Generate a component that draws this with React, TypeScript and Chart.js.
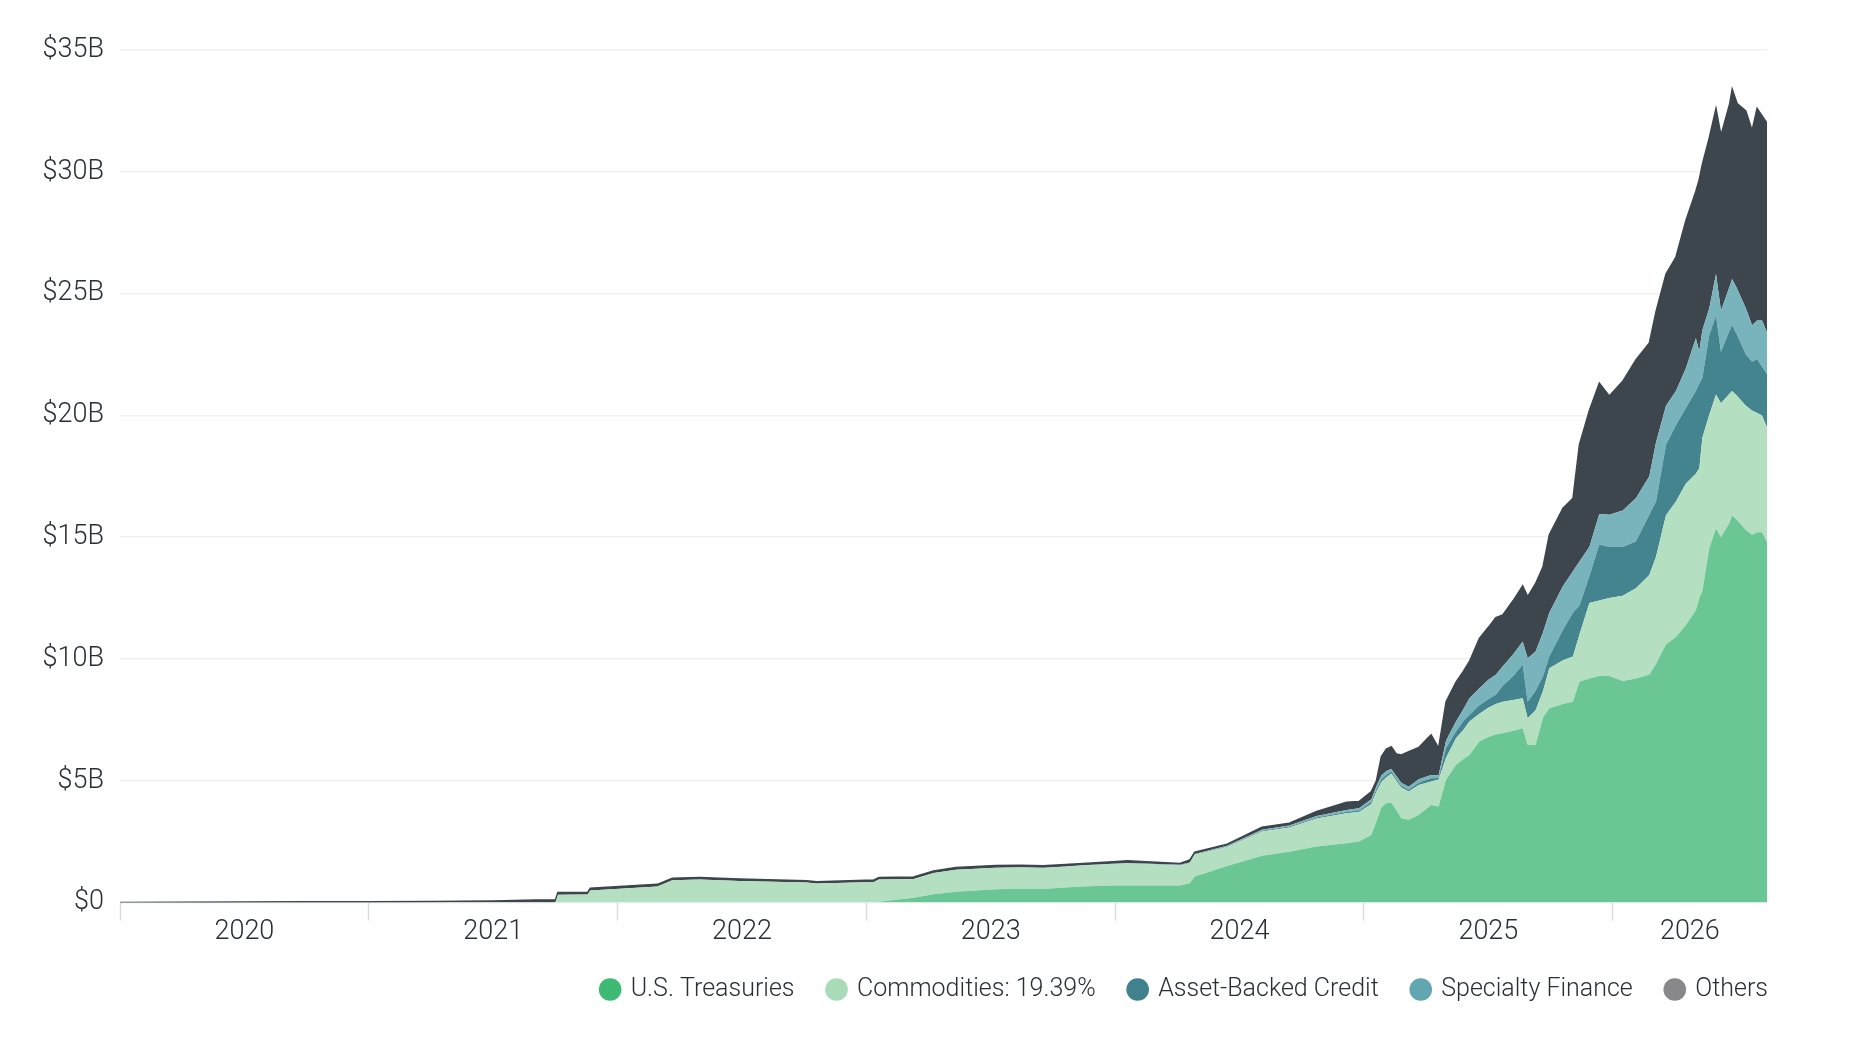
import React, { useEffect, useRef } from "react";
import { Chart, registerables } from "chart.js";

Chart.register(...registerables);

// Dates as decimal years
const DATES = [
  2020.0, 2020.25, 2020.5, 2020.75, 2021.0, 2021.25, 2021.5, 2021.67, 2021.75, 2021.76,
  2021.88, 2021.89, 2022.16, 2022.22, 2022.33, 2022.49, 2022.76, 2022.8, 2023.03, 2023.05,
  2023.19, 2023.27, 2023.36, 2023.52, 2023.62, 2023.71, 2023.8, 2023.87, 2023.99, 2024.05,
  2024.26, 2024.3, 2024.32, 2024.45, 2024.59, 2024.7, 2024.81, 2024.93, 2024.98, 2025.03,
  2025.05, 2025.07, 2025.09, 2025.11, 2025.13, 2025.15, 2025.18, 2025.22, 2025.27, 2025.3,
  2025.33, 2025.37, 2025.4, 2025.424, 2025.464, 2025.5, 2025.53, 2025.558, 2025.6, 2025.638,
  2025.658, 2025.69, 2025.72, 2025.745, 2025.8, 2025.84, 2025.866, 2025.906, 2025.946, 2025.986,
  2026.04, 2026.093, 2026.147, 2026.174, 2026.214, 2026.254, 2026.294, 2026.334, 2026.348, 2026.36,
  2026.388, 2026.415, 2026.435, 2026.47, 2026.48, 2026.5, 2026.535, 2026.56, 2026.58, 2026.6,
  2026.62,
];

// Values in $B
const US_TREASURIES = [
  0, 0, 0, 0, 0, 0, 0, 0, 0, 0,
  0, 0, 0, 0, 0, 0, 0, 0, 0, 0.03,
  0.2, 0.34, 0.45, 0.55, 0.57, 0.56, 0.62, 0.66, 0.7, 0.7,
  0.7, 0.79, 1.07, 1.5, 1.92, 2.09, 2.3, 2.44, 2.51, 2.78,
  3.33, 3.9, 4.08, 4.1, 3.8, 3.46, 3.4, 3.6, 4.01, 3.95,
  5.04, 5.65, 5.9, 6.06, 6.61, 6.8, 6.9, 6.95, 7.05, 7.16,
  6.47, 6.47, 7.6, 7.98, 8.15, 8.25, 9.07, 9.2, 9.3, 9.3,
  9.1, 9.2, 9.35, 9.8, 10.6, 10.9, 11.4, 12.0, 12.5, 12.77,
  14.55, 15.36, 15.0, 15.6, 15.9, 15.7, 15.3, 15.1, 15.2, 15.2,
  14.8,
];

const COMMODITIES = [
  0, 0, 0, 0, 0, 0, 0, 0, 0, 0.32,
  0.33, 0.5, 0.66, 0.92, 0.95, 0.89, 0.82, 0.78, 0.85, 0.92,
  0.77, 0.87, 0.9, 0.88, 0.87, 0.86, 0.85, 0.86, 0.87, 0.9,
  0.82, 0.83, 0.89, 0.78, 1.0, 0.99, 1.15, 1.23, 1.21, 1.27,
  1.22, 1.05, 1.07, 1.2, 1.2, 1.26, 1.16, 1.23, 0.96, 1.1,
  0.91, 1.1, 1.2, 1.37, 1.14, 1.2, 1.25, 1.3, 1.27, 1.23,
  1.1, 1.43, 1.1, 1.64, 1.8, 1.85, 1.93, 3.1, 3.1, 3.2,
  3.5, 3.7, 4.1, 4.4, 5.3, 5.57, 5.8, 5.6, 5.33, 6.3,
  5.48, 5.5, 5.5, 5.3, 5.1, 5.1, 5.1, 5.1, 4.9, 4.8,
  4.7,
];

const ASSET_BACKED_CREDIT = [
  0, 0, 0, 0, 0, 0, 0, 0, 0, 0,
  0, 0, 0, 0, 0, 0, 0, 0, 0, 0,
  0, 0, 0, 0, 0, 0, 0, 0, 0, 0.01,
  0.01, 0.01, 0.01, 0.02, 0.03, 0.04, 0.04, 0.05, 0.06, 0.08,
  0.1, 0.11, 0.1, 0.08, 0.08, 0.08, 0.07, 0.09, 0.13, 0.07,
  0.4, 0.27, 0.35, 0.27, 0.35, 0.35, 0.38, 0.65, 0.98, 1.37,
  0.68, 0.8, 0.6, 0.48, 1.25, 1.8, 1.2, 1.1, 2.3, 2.1,
  2.0, 1.92, 2.47, 2.27, 2.9, 3.13, 3.1, 3.4, 3.47, 2.46,
  3.27, 3.24, 2.1, 2.6, 2.7, 2.5, 2.1, 2.0, 2.2, 2.0,
  2.2,
];

const SPECIALTY_FINANCE = [
  0, 0, 0, 0, 0, 0, 0, 0, 0, 0,
  0, 0, 0, 0, 0, 0, 0, 0, 0, 0,
  0, 0, 0, 0, 0.01, 0.01, 0.01, 0.01, 0.02, 0.02,
  0.02, 0.02, 0.02, 0.03, 0.04, 0.04, 0.06, 0.08, 0.09, 0.11,
  0.13, 0.16, 0.15, 0.1, 0.12, 0.12, 0.13, 0.14, 0.14, 0.1,
  0.3, 0.41, 0.5, 0.69, 0.7, 0.8, 0.82, 0.8, 0.9, 0.96,
  1.78, 1.61, 1.8, 1.8, 1.8, 1.7, 1.8, 1.2, 1.25, 1.32,
  1.5, 1.78, 1.58, 2.43, 1.6, 1.4, 1.64, 2.17, 1.33, 1.97,
  1.1, 1.7, 1.7, 1.8, 1.9, 1.9, 1.9, 1.5, 1.6, 1.9,
  1.7,
];

const OTHERS = [
  0, 0.01, 0.02, 0.03, 0.04, 0.05, 0.07, 0.11, 0.11, 0.09,
  0.09, 0.09, 0.09, 0.08, 0.08, 0.08, 0.08, 0.08, 0.08, 0.08,
  0.08, 0.09, 0.09, 0.09, 0.08, 0.08, 0.08, 0.08, 0.09, 0.09,
  0.06, 0.1, 0.08, 0.07, 0.1, 0.1, 0.19, 0.32, 0.28, 0.32,
  0.22, 0.78, 0.9, 0.92, 0.9, 1.14, 1.44, 1.31, 1.65, 1.12,
  1.6, 1.62, 1.55, 1.51, 2.05, 2.15, 2.35, 2.11, 2.2, 2.28,
  2.53, 2.79, 2.7, 3.2, 3.19, 3.0, 4.8, 5.6, 5.38, 4.88,
  5.3, 5.68, 5.47, 5.37, 5.4, 5.5, 6.06, 6.03, 7.07, 6.8,
  7.0, 6.8, 7.2, 7.5, 7.8, 7.6, 8.1, 8.0, 8.7, 8.4,
  8.6,
];

const SERIES_NAMES = [
  "U.S. Treasuries",
  "Commodities: 19.39%",
  "Asset-Backed Credit",
  "Specialty Finance",
  "Others",
];

const YEAR_LABELS = ["2020", "2021", "2022", "2023", "2024", "2025", "2026"];
const X_MIN = 2020;
const X_MAX = 2026.62;
const Y_TICKS = [0, 5, 10, 15, 20, 25, 30, 35];

const AREA_COLORS = ["#6ac695", "#b4dfc0", "#43848f", "#79b3bc", "#3d464c"];
const DOT_COLORS = ["#3fba74", "#a9dbb8", "#3f818c", "#62a6b1", "#88878b"];

const FONT = "Roboto, 'Liberation Sans', Arial, sans-serif";
const TEXT_COLOR = "#2a2f34";
const LEGEND_PAD = 34;

const legendShift = {
  id: "legendShift",
  afterLayout(chart: any) {
    const lg = chart.legend;
    if (lg) {
      lg.left += LEGEND_PAD + 1;
      lg.right += LEGEND_PAD + 1;
    }
  },
};

export default function App() {
  const canvasRef = useRef<HTMLCanvasElement | null>(null);

  useEffect(() => {
    if (!canvasRef.current) return;
    const seriesValues = [US_TREASURIES, COMMODITIES, ASSET_BACKED_CREDIT, SPECIALTY_FINANCE, OTHERS];

    const yearStarts = YEAR_LABELS.map((y) => Number(y));
    const labelPos = yearStarts.map((y) => (y + Math.min(y + 1, X_MAX)) / 2);

    const datasets = seriesValues.map((vals, i) => ({
      label: SERIES_NAMES[i],
      data: DATES.map((d, j) => ({ x: d, y: vals[j] })),
      backgroundColor: AREA_COLORS[i],
      borderColor: AREA_COLORS[i],
      borderWidth: i === 4 ? 1.5 : 0,
      pointRadius: 0,
      pointHoverRadius: 0,
      tension: 0,
      fill: i === 0 ? "origin" : "-1",
    }));

    const chart = new Chart(canvasRef.current, {
      type: "line",
      data: { datasets },
      plugins: [legendShift],
      options: {
        animation: false,
        responsive: true,
        maintainAspectRatio: false,
        layout: { padding: { top: 50, right: 107, left: 0, bottom: 26 } },
        plugins: {
          tooltip: { enabled: false },
          legend: {
            position: "bottom",
            align: "end",
            labels: {
              usePointStyle: true,
              pointStyle: "circle",
              boxWidth: 16,
              boxHeight: 16,
              padding: LEGEND_PAD,
              color: TEXT_COLOR,
              font: { family: FONT, size: 25, weight: "300" },
              generateLabels: (c: any) =>
                c.data.datasets.map((ds: any, i: number) => ({
                  text: ds.label,
                  fillStyle: DOT_COLORS[i],
                  strokeStyle: DOT_COLORS[i],
                  lineWidth: 0,
                  pointStyle: "circle",
                  hidden: false,
                  datasetIndex: i,
                  fontColor: TEXT_COLOR,
                })),
            },
          },
        },
        scales: {
          x: {
            type: "linear",
            min: X_MIN,
            max: X_MAX,
            afterBuildTicks: (scale: any) => {
              const vals = [...yearStarts, ...labelPos].sort((a, b) => a - b);
              scale.ticks = vals.map((v) => ({ value: v }));
            },
            grid: {
              drawOnChartArea: false,
              drawTicks: true,
              tickLength: 18,
              tickWidth: 1.5,
              color: (ctx: any) => {
                const v = ctx.tick ? ctx.tick.value : 0;
                return yearStarts.includes(v) ? "#dcdcdc" : "rgba(0,0,0,0)";
              },
            },
            border: { display: false },
            ticks: {
              autoSkip: false,
              maxRotation: 0,
              padding: -5,
              color: TEXT_COLOR,
              font: { family: FONT, size: 27, weight: "300" },
              callback: (value: any) => {
                const idx = labelPos.findIndex((p) => Math.abs(p - value) < 1e-6);
                return idx >= 0 ? YEAR_LABELS[idx] : "";
              },
            },
          },
          y: {
            stacked: true,
            min: 0,
            max: 35,
            z: 1,
            afterBuildTicks: (scale: any) => {
              scale.ticks = Y_TICKS.map((v) => ({ value: v }));
            },
            afterFit: (scale: any) => {
              scale.width = 120;
            },
            grid: {
              drawTicks: false,
              color: "rgba(0,0,0,0.06)",
              lineWidth: 1.5,
            },
            border: { display: false },
            ticks: {
              padding: 16,
              color: TEXT_COLOR,
              font: { family: FONT, size: 27, weight: "300" },
              callback: (value: any) => `$${value}${value === 0 ? "" : "B"}`,
            },
          },
        },
      },
    });

    return () => chart.destroy();
  }, []);

  return (
    <div style={{ position: "fixed", left: 0, top: 0, width: "100vw", height: "100vh", background: "#fff" }}>
      <canvas ref={canvasRef} />
    </div>
  );
}
